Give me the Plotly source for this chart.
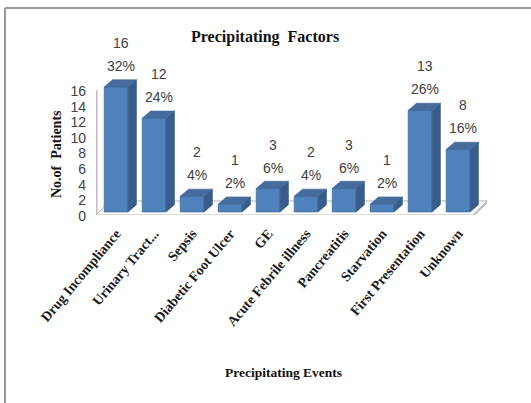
import plotly.graph_objects as go

# ---- data ----
categories = ["Drug Incompliance", "Urinary Tract...", "Sepsis", "Diabetic Foot Ulcer", "GE",
              "Acute Febrile illness", "Pancreatitis", "Starvation", "First Presentation", "Unknown"]
patients = [16, 12, 2, 1, 3, 2, 3, 1, 13, 8]
percent_labels = ["32%", "24%", "4%", "2%", "6%", "4%", "6%", "2%", "26%", "16%"]
y_ticks = [0, 2, 4, 6, 8, 10, 12, 14, 16]

# ---- geometry / style ----
W, H = 531, 403
PX_L, PX_R, PX_T, PX_B = 96, 487, 77.6, 214.7      # plot box in pixels
X_RANGE = [-0.53, 9.76]
Y_RANGE = [-0.35, 17.2]
BAR_W = 0.63
DX, DY = 0.22, 0.92                                 # depth offset of the 3-D bars

FRONT = "#4F81BD"
SIDE = "#385D8A"
TOP = "#466C9E"
EDGE = "#3B6594"
LABEL = "#404040"
SANS = "Liberation Sans Narrow, Arial Narrow, Liberation Sans, sans-serif"
SERIF = "Liberation Serif, Times New Roman, serif"


def px_x(p):
    return p / W


def px_y(p):
    return 1 - p / H


idx = list(range(len(categories)))

fig = go.Figure()

# front faces
fig.add_trace(go.Bar(
    x=idx, y=patients, width=BAR_W,
    marker=dict(color=FRONT, line=dict(color=EDGE, width=0.6)),
    hoverinfo="skip", showlegend=False,
))

# side and top faces, built from each bar's value
side_x, side_y, top_x, top_y = [], [], [], []
for i, v in zip(idx, patients):
    xr = i + BAR_W / 2
    xl = i - BAR_W / 2
    side_x += [xr, xr + DX, xr + DX, xr, xr, None]
    side_y += [0, DY, v + DY, v, 0, None]
    top_x += [xl, xr, xr + DX, xl + DX, xl, None]
    top_y += [v, v, v + DY, v + DY, v, None]

fig.add_trace(go.Scatter(x=side_x, y=side_y, mode="lines", fill="toself",
                         fillcolor=SIDE, line=dict(color=SIDE, width=0.6),
                         hoverinfo="skip", showlegend=False))
fig.add_trace(go.Scatter(x=top_x, y=top_y, mode="lines", fill="toself",
                         fillcolor=TOP, line=dict(color=EDGE, width=0.6),
                         hoverinfo="skip", showlegend=False))

# value + percentage labels
ann = []
for i, v, p in zip(idx, patients, percent_labels):
    ann.append(dict(x=i, y=v, xref="x", yref="y", text=str(v), showarrow=False,
                    xanchor="center", yanchor="middle",
                    xshift=5, yshift=44, font=dict(family=SANS, size=14, color=LABEL)))
    ann.append(dict(x=i, y=v, xref="x", yref="y", text=p, showarrow=False,
                    xanchor="center", yanchor="middle",
                    xshift=5, yshift=21, font=dict(family=SANS, size=14, color=LABEL)))

# titles
ann.append(dict(x=px_x(265), y=px_y(37), xref="paper", yref="paper",
                xanchor="center", yanchor="middle",
                text="Precipitating  Factors", showarrow=False,
                font=dict(family=SERIF, size=16, color="#111111", weight="bold")))
ann.append(dict(x=px_x(283), y=px_y(372), xref="paper", yref="paper",
                xanchor="center", yanchor="middle",
                text="Precipitating Events", showarrow=False,
                font=dict(family=SERIF, size=13.5, color="#111111", weight="bold")))
ann.append(dict(x=px_x(56), y=px_y(154), xref="paper", yref="paper",
                xanchor="center", yanchor="middle",
                text="No.of  Patients", showarrow=False, textangle=-90,
                font=dict(family=SERIF, size=14, color="#111111", weight="bold")))

# floor slab and left wall edge
fx0, fx1 = X_RANGE[0], 9.39
fy0 = -0.38
fdx, fdy = 0.37, 1.79
slab = 0.26
floor_path = (f"M {fx0},{fy0} L {fx1},{fy0} L {fx1 + fdx},{fy0 + fdy} "
              f"L {fx0 + fdx},{fy0 + fdy} Z")
slab_path = (f"M {fx0},{fy0 - slab} L {fx1},{fy0 - slab} L {fx1 + fdx},{fy0 + fdy - slab} "
             f"L {fx1 + fdx},{fy0 + fdy} L {fx1},{fy0} L {fx0},{fy0} Z")
shapes = [
    dict(type="path", path=slab_path, xref="x", yref="y", layer="below",
         fillcolor="#C8C8C8", line=dict(color="#AFAFAF", width=0.8)),
    dict(type="path", path=floor_path, xref="x", yref="y", layer="below",
         fillcolor="#FFFFFF", line=dict(color="#B4B4B4", width=1)),
    dict(type="line", xref="x", yref="y", x0=fx0 + 0.02, x1=fx0 + 0.02, y0=fy0, y1=15.6,
         layer="below", line=dict(color="#BDBDBD", width=1.5)),
    # outer frame
    dict(type="line", xref="paper", yref="paper", x0=px_x(5), x1=1, y0=px_y(8), y1=px_y(8),
         line=dict(color="#9A9A9A", width=2)),
    dict(type="line", xref="paper", yref="paper", x0=px_x(5), x1=px_x(5), y0=px_y(8), y1=0,
         line=dict(color="#9A9A9A", width=2)),
]

fig.update_layout(
    width=W, height=H, autosize=False,
    margin=dict(l=0, r=0, t=0, b=0, autoexpand=False),
    paper_bgcolor="white", plot_bgcolor="rgba(0,0,0,0)",
    bargap=0.3,
    xaxis=dict(domain=[px_x(PX_L), px_x(PX_R)], range=X_RANGE, automargin=False,
               tickmode="array", tickvals=idx, ticktext=categories,
               tickangle=-50, ticks="", showgrid=False, zeroline=False, showline=False,
               ticklabelstandoff=7,
               tickfont=dict(family=SERIF, size=14, color="#1A1A1A", weight="bold")),
    yaxis=dict(domain=[px_y(PX_B), px_y(PX_T)], range=Y_RANGE, automargin=False,
               tickmode="array", tickvals=y_ticks, ticks="", showgrid=False,
               zeroline=False, showline=False, ticklabelstandoff=9, ticklabelshift=4,
               tickfont=dict(family=SANS, size=14, color=LABEL)),
    annotations=ann,
    shapes=shapes,
    showlegend=False,
)

fig.write_html("out.html")
